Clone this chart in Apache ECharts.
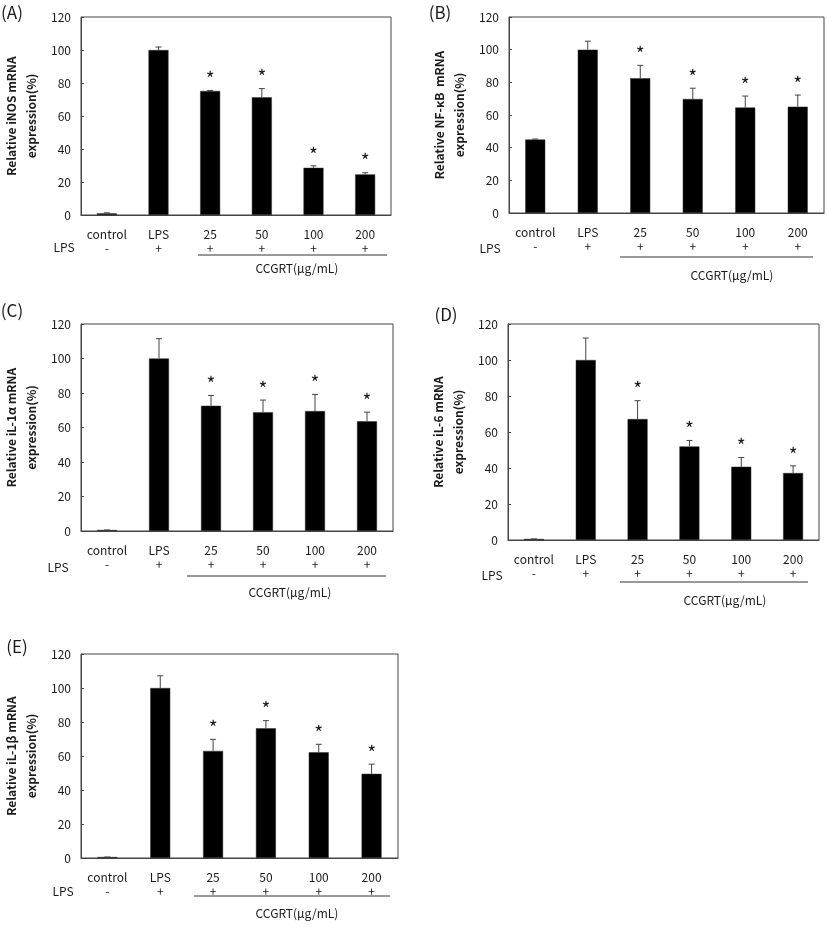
<!DOCTYPE html>
<html>
<head>
<meta charset="utf-8">
<script src="https://cdn.jsdelivr.net/npm/echarts@6/dist/echarts.min.js"></script>
<style>
html,body{margin:0;padding:0;background:#fff;}
#chart{width:827px;height:931px;}
</style>
</head>
<body>
<div id="chart"></div>
<script>
// ---- Data ----
const categories = ['control', 'LPS', '25', '50', '100', '200'];
const lpsSigns = ['-', '+', '+', '+', '+', '+'];
const yTicks = [0, 20, 40, 60, 80, 100, 120];
const panelLetters = ['(A)', '(B)', '(C)', '(D)', '(E)'];
const yTitles = [
  'Relative iNOS mRNA\nexpression(%)',
  'Relative NF-κB  mRNA\nexpression(%)',
  'Relative iL-1α mRNA\nexpression(%)',
  'Relative iL-6 mRNA\nexpression(%)',
  'Relative iL-1β mRNA\nexpression(%)'
];
const groupLabel = 'CCGRT(μg/mL)';
const rowLabel = 'LPS';

// Means (%)
const iNOS  = [1.0, 100, 75.2, 71.4, 28.6, 24.6];
const nfkb  = [45.0, 100, 82.5, 69.8, 64.6, 65.1];
const il1a  = [0.6, 100, 72.6, 68.9, 69.5, 63.6];
const il6   = [0.6, 100, 67.2, 52.0, 40.7, 37.2];
const il1b  = [0.6, 100, 63.0, 76.3, 62.2, 49.5];
// Upper end of error bars (%)
const iNOSErr = [1.3, 101.8, 75.5, 76.6, 29.8, 25.6];
const nfkbErr = [45.3, 105.2, 90.4, 76.4, 71.6, 72.2];
const il1aErr = [0.6, 111.5, 78.6, 75.9, 79.2, 68.9];
const il6Err  = [0.6, 112.2, 77.4, 55.3, 45.8, 41.2];
const il1bErr = [0.6, 107.2, 69.8, 80.8, 66.9, 55.2];
// Significance marks
const sig = [false, false, true, true, true, true];

const means = [iNOS, nfkb, il1a, il6, il1b];
const errs = [iNOSErr, nfkbErr, il1aErr, il6Err, il1bErr];

// ---- Layout ----
const grids = [
  {left: 81, top: 17, width: 310, height: 198},
  {left: 509, top: 17, width: 315, height: 196},
  {left: 77, top: 324, width: 316, height: 207},
  {left: 508, top: 324, width: 311, height: 216},
  {left: 78, top: 654, width: 320, height: 204}
];
const letterPos = [[12, 13], [440, 13], [12, 311], [446, 315], [17, 647]];
const rowLabelPos = [[64, 247], [490, 248], [58, 567], [492, 575], [63, 891]];
const underline = [[198, 387, 255], [620, 813, 257], [187, 386, 576], [620, 808, 582], [194, 390, 896]];
const groupPos = [[297, 268], [732, 275], [290, 592], [725, 600], [297, 913]];

const FONT = '"Noto Sans CJK KR", "Noto Sans", sans-serif';
const TXT = '#1a1a1a';
const AX = '#444';

const option = {
  backgroundColor: '#fff',
  animation: false,
  grid: [], xAxis: [], yAxis: [], series: [], graphic: []
};

grids.forEach((g, p) => {
  option.grid.push(Object.assign({show: true, borderColor: AX, borderWidth: 1, backgroundColor: 'transparent'}, g));
  option.xAxis.push({
    type: 'category', gridIndex: p, data: categories,
    axisLine: {lineStyle: {color: AX, width: 1}},
    axisTick: {inside: true, length: 5, lineStyle: {color: AX}},
    axisLabel: {
      color: TXT, fontFamily: FONT, fontSize: 12, lineHeight: 14, margin: 12, interval: 0,
      formatter: (v, i) => v + '\n' + lpsSigns[i]
    }
  });
  option.yAxis.push({
    type: 'value', gridIndex: p, min: yTicks[0], max: yTicks[yTicks.length - 1], interval: 20,
    splitLine: {show: false},
    axisLine: {show: true, lineStyle: {color: AX, width: 1}},
    axisTick: {show: true, inside: true, length: 3, lineStyle: {color: AX}},
    axisLabel: {color: TXT, fontFamily: FONT, fontSize: 12, margin: 10},
    name: yTitles[p], nameLocation: 'middle', nameRotate: 90, nameGap: 40,
    nameTextStyle: {color: TXT, fontFamily: FONT, fontSize: 12, fontWeight: 'bold', lineHeight: 20}
  });
  option.series.push({
    type: 'bar', xAxisIndex: p, yAxisIndex: p, data: means[p], barWidth: 20,
    itemStyle: {color: '#000', borderColor: '#333', borderWidth: 0.5}
  });
  const errData = means[p].map((m, i) => [i, m, errs[p][i]]);
  option.series.push({
    type: 'custom', xAxisIndex: p, yAxisIndex: p, data: errData, z: 5,
    renderItem: (params, api) => {
      const lo = api.coord([api.value(0), api.value(1)]);
      const hi = api.coord([api.value(0), api.value(2)]);
      const c = 3;
      return {type: 'group', children: [
        {type: 'line', shape: {x1: lo[0], y1: lo[1], x2: hi[0], y2: hi[1]}, style: {stroke: '#444', lineWidth: 1}},
        {type: 'line', shape: {x1: hi[0] - c, y1: hi[1], x2: hi[0] + c, y2: hi[1]}, style: {stroke: '#444', lineWidth: 1}}
      ]};
    }
  });
  const starData = errs[p].map((e, i) => [i, e, sig[i] ? 1 : 0]);
  option.series.push({
    type: 'custom', xAxisIndex: p, yAxisIndex: p, data: starData, z: 6,
    renderItem: (params, api) => {
      if (!api.value(2)) return null;
      const pt = api.coord([api.value(0), api.value(1)]);
      return {type: 'text', x: pt[0], y: pt[1] - 2,
        style: {text: '*', fill: '#1a1a1a', font: '19px ' + FONT, textAlign: 'center', textVerticalAlign: 'bottom'}};
    }
  });
  option.graphic.push({type: 'text', x: letterPos[p][0], y: letterPos[p][1],
    style: {text: panelLetters[p], fill: TXT, font: '17px ' + FONT, textAlign: 'center', textVerticalAlign: 'middle'}});
  option.graphic.push({type: 'text', x: rowLabelPos[p][0], y: rowLabelPos[p][1],
    style: {text: rowLabel, fill: TXT, font: '12px ' + FONT, textAlign: 'center', textVerticalAlign: 'middle'}});
  option.graphic.push({type: 'line', shape: {x1: underline[p][0], y1: underline[p][2], x2: underline[p][1], y2: underline[p][2]},
    style: {stroke: '#333', lineWidth: 1}});
  option.graphic.push({type: 'text', x: groupPos[p][0], y: groupPos[p][1],
    style: {text: groupLabel, fill: TXT, font: '12px ' + FONT, textAlign: 'center', textVerticalAlign: 'middle'}});
});

const chart = echarts.init(document.getElementById('chart'), null, {renderer: 'canvas'});
chart.setOption(option);
</script>
</body>
</html>
